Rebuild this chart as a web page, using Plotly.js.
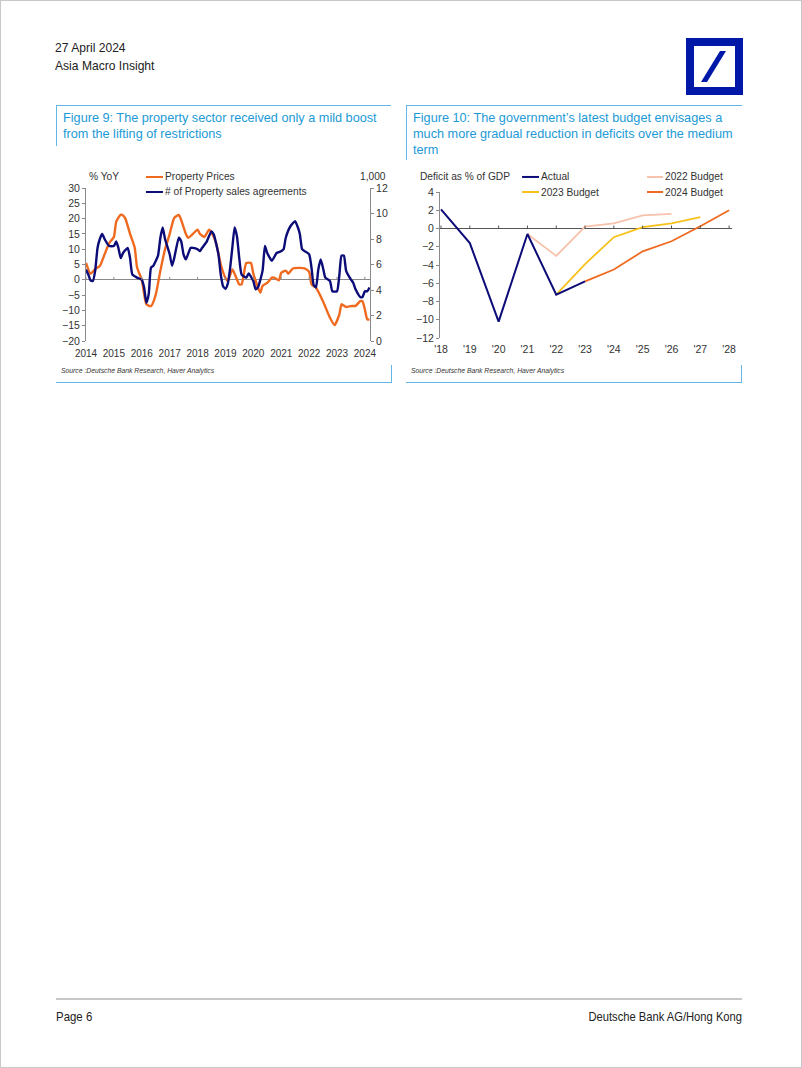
<!DOCTYPE html>
<html>
<head>
<meta charset="utf-8">
<script src="https://cdn.plot.ly/plotly-3.0.1.min.js"></script>
<style>
  html, body { margin:0; padding:0; background:#fff; }
  #page { position:relative; width:802px; height:1068px; box-sizing:border-box; border:1px solid #c8c8c8; overflow:hidden;
          font-family:"Liberation Sans",Arial,sans-serif; color:#222; }
  .abs { position:absolute; }
  .hdr { left:54px; top:38px; font-size:13px; line-height:17.5px; color:#222; transform:scaleX(0.93); transform-origin:0 0; white-space:nowrap; }
  .ftitle { font-size:13.5px; line-height:16px; color:#1b9ad6; transform:scaleX(0.94); transform-origin:0 0; white-space:nowrap; }
  .bl { background:#62b5e5; position:absolute; }
  .src { font-style:italic; font-size:6.8px; color:#333; white-space:nowrap; }
  .foot { font-size:13px; color:#222; top:1008px; line-height:16px; white-space:nowrap; }
</style>
</head>
<body>
<div id="page">
  <div class="abs hdr">27 April 2024<br>Asia Macro Insight</div>
  <svg class="abs" style="left:685px;top:37px" width="57" height="57" viewBox="0 0 57 57">
    <rect x="4" y="4" width="49" height="49" fill="none" stroke="#0018a8" stroke-width="8"/>
    <polygon points="15,44 21,44 40,13 34,13" fill="#0018a8"/>
  </svg>

  <!-- Figure 9 frame -->
  <div class="bl" style="left:55px;top:104px;width:335px;height:1px"></div>
  <div class="bl" style="left:55px;top:104px;width:1px;height:41px"></div>
  <div class="abs ftitle" style="left:62px;top:109px">Figure 9: The property sector received only a mild boost<br>from the lifting of restrictions</div>
  <div class="bl" style="left:55px;top:381px;width:336px;height:1px"></div>
  <div class="bl" style="left:390px;top:364px;width:1px;height:18px"></div>
  <div class="abs src" style="left:60px;top:366px">Source :Deutsche Bank Research, Haver Analytics</div>

  <!-- Figure 10 frame -->
  <div class="bl" style="left:405px;top:104px;width:336px;height:1px"></div>
  <div class="bl" style="left:405px;top:104px;width:1px;height:55px"></div>
  <div class="abs ftitle" style="left:412px;top:109px">Figure 10: The government’s latest budget envisages a<br>much more gradual reduction in deficits over the medium<br>term</div>
  <div class="bl" style="left:405px;top:381px;width:336px;height:1px"></div>
  <div class="bl" style="left:740px;top:364px;width:1px;height:18px"></div>
  <div class="abs src" style="left:410px;top:366px">Source :Deutsche Bank Research, Haver Analytics</div>

  <div id="chart1" class="abs" style="left:55px;top:160px;width:340px;height:215px"></div>
  <div id="chart2" class="abs" style="left:405px;top:160px;width:340px;height:215px"></div>

  <div class="abs" style="left:55px;top:997px;width:686px;height:2px;background:#c8c8c8"></div>
  <div class="abs foot" style="left:55px;transform:scaleX(0.88);transform-origin:0 0">Page 6</div>
  <div class="abs foot" style="left:741px;transform:translateX(-100%) scaleX(0.86);transform-origin:100% 0">Deutsche Bank AG/Hong Kong</div>
</div>
<script>
// ---------- Figure 9 data ----------
const priceName = "Property Prices";
const salesName = "# of Property sales agreements";
const priceDates = ["2014-01","2014-03","2014-05","2014-07","2014-09","2014-11","2015-01","2015-02","2015-04","2015-05","2015-06","2015-08","2015-10","2015-11","2016-01","2016-03","2016-05","2016-07","2016-09","2016-11","2017-01","2017-03","2017-05","2017-06","2017-08","2017-09","2017-11","2018-01","2018-02","2018-04","2018-06","2018-07","2018-09","2018-11","2019-01","2019-02","2019-04","2019-05","2019-07","2019-08","2019-10","2019-12","2020-01","2020-04","2020-05","2020-07","2020-09","2020-10","2020-12","2021-01","2021-03","2021-04","2021-06","2021-09","2021-11","2022-01","2022-02","2022-04","2022-07","2022-10","2022-12","2023-02","2023-03","2023-05","2023-07","2023-09","2023-11","2023-12","2024-01","2024-02","2024-03"];
const priceValues = [5.5,2.0,3.5,4.5,8.3,12,14,19,21.3,21,20,15,10.5,4,0,-8,-8.6,-5,3,10,15,20.2,21.2,19.5,15,13.7,15,16.4,15,14,16.4,15.5,12,5,0.6,-0.4,3.4,2,-1.5,-1.5,5.5,5.5,2,-4.2,-2,-1,0.7,0.7,-0.2,2.3,3,2,3.7,3.9,3.7,2.6,-1.5,-2.6,-7,-12.4,-14.8,-11.3,-8,-8.9,-8.6,-8.5,-7,-7,-9.7,-12.9,-13];
const salesDates = ["2014-01","2014-02","2014-03","2014-04","2014-05","2014-06","2014-07","2014-08","2014-09","2014-11","2015-01","2015-02","2015-03","2015-04","2015-05","2015-07","2015-08","2015-09","2015-11","2016-01","2016-02","2016-03","2016-04","2016-05","2016-06","2016-08","2016-09","2016-10","2016-11","2017-01","2017-02","2017-03","2017-05","2017-06","2017-07","2017-08","2017-10","2017-11","2018-01","2018-02","2018-03","2018-05","2018-07","2018-08","2018-10","2018-11","2018-12","2019-01","2019-02","2019-03","2019-04","2019-05","2019-06","2019-07","2019-08","2019-10","2019-11","2020-01","2020-02","2020-03","2020-05","2020-06","2020-07","2020-09","2020-11","2021-01","2021-02","2021-03","2021-05","2021-07","2021-08","2021-09","2021-10","2021-11","2022-01","2022-02","2022-03","2022-04","2022-05","2022-06","2022-07","2022-08","2022-10","2022-11","2023-01","2023-02","2023-03","2023-04","2023-05","2023-07","2023-08","2023-09","2023-11","2023-12","2024-01","2024-02","2024-03"];
const salesValues = [5.6,5.2,4.75,4.7,5.5,7.3,8.0,8.4,8.0,7.45,7.45,7.8,7.3,6.5,6.9,7.3,6.5,5.2,4.97,4.8,4.2,3.0,3.66,5.75,5.9,6.7,8.1,8.9,8.0,6.8,5.9,6.5,8.1,7.8,6.8,6.4,7.3,7.3,7.2,7.05,7.3,7.8,8.6,8.35,6.8,5.2,4.3,4.1,4.5,5.6,7.3,8.9,8.2,6.5,5.2,4.97,5.3,4.7,4.05,4.2,5.5,7.45,6.9,6.3,6.9,7.05,7.2,8.1,9.0,9.4,9.0,8.4,7.2,7.05,6.8,5.75,4.4,4.2,5.6,6.4,5.75,4.97,4.7,3.9,3.9,5.2,6.7,6.7,5.5,4.83,4.57,4.05,3.45,3.45,3.9,3.9,4.2];
const yearTicks1 = ["2014-01-01","2015-01-01","2016-01-01","2017-01-01","2018-01-01","2019-01-01","2020-01-01","2021-01-01","2022-01-01","2023-01-01","2024-01-01"];
const leftTitle1 = "% YoY";
const rightTitle1 = "1,000";

// ---------- Figure 10 data ----------
const years = [2018,2019,2020,2021,2022,2023,2024,2025,2026,2027,2028];
const yearLabels = ["'18","'19","'20","'21","'22","'23","'24","'25","'26","'27","'28"];
const actualYears = [2018,2019,2020,2021,2022,2023];
const actualValues = [2.1,-1.6,-10.2,-0.6,-7.25,-5.8];
const b2022Years = [2021,2022,2023,2024,2025,2026];
const b2022Values = [-0.6,-3.0,0.2,0.55,1.45,1.6];
const b2023Years = [2022,2023,2024,2025,2026,2027];
const b2023Values = [-7.25,-3.9,-0.95,0.15,0.55,1.25];
const b2024Years = [2023,2024,2025,2026,2027,2028];
const b2024Values = [-5.8,-4.5,-2.5,-1.4,0.25,2.0];
const seriesNames2 = ["Actual","2022 Budget","2023 Budget","2024 Budget"];
const yTitle2 = "Deficit as % of GDP";

const FONT = "Liberation Sans, Arial, sans-serif";
const TXT = "#333";
const AX = "#8a8a8a";
const ORANGE = "#ef6a1f", NAVY = "#0c0c78";
const SALMON = "#f6c2ab", YELLOW = "#f7c01a";

function legendItem(xp, yp, color, name, width) {
  return {
    shape: {type:"line", xref:"paper", yref:"paper", x0:xp, x1:xp+width, y0:yp, y1:yp, line:{color:color, width:2}},
    ann: {xref:"paper", yref:"paper", x:xp+width, y:yp, xanchor:"left", yanchor:"middle", text:name, showarrow:false, font:{family:FONT, size:10.2, color:TXT}}
  };
}

// ---------- Chart 1 ----------
(function(){
  const tickShapes = yearTicks1.map(d => ({type:"line", xref:"x", yref:"y", ysizemode:"pixel", yanchor:0, x0:d, x1:d, y0:0, y1:3, line:{color:AX, width:1}}));
  const l1 = legendItem(0.211, 1.072, ORANGE, priceName, 0.06);
  const l2 = legendItem(0.211, 0.974, NAVY, salesName, 0.06);
  const data = [
    {x:priceDates, y:priceValues, type:"scatter", mode:"lines", name:priceName, line:{color:ORANGE, width:2.4, shape:"spline", smoothing:0.5}, xaxis:"x", yaxis:"y", hoverinfo:"skip"},
    {x:salesDates, y:salesValues, type:"scatter", mode:"lines", name:salesName, line:{color:NAVY, width:2.4, shape:"spline", smoothing:0.5}, xaxis:"x", yaxis:"y2", hoverinfo:"skip"}
  ];
  const layout = {
    width:340, height:215, margin:{l:30, r:26, t:27, b:35},
    paper_bgcolor:"rgba(0,0,0,0)", plot_bgcolor:"rgba(0,0,0,0)",
    showlegend:false,
    font:{family:FONT, size:10, color:TXT},
    xaxis:{type:"date", range:["2014-01-01","2024-03-08"], tickvals:yearTicks1, tickformat:"%Y", showgrid:false, showline:false, zeroline:false, ticks:"", ticklabelstandoff:5, tickfont:{size:10, color:TXT}, fixedrange:true},
    yaxis:{range:[-20,30], dtick:5, showgrid:false, showline:true, linecolor:AX, linewidth:1, ticks:"outside", ticklen:3, tickcolor:AX, zeroline:true, zerolinecolor:AX, zerolinewidth:1, tickfont:{size:10.5, color:TXT}, fixedrange:true},
    yaxis2:{range:[0,12], dtick:2, overlaying:"y", side:"right", showgrid:false, showline:true, linecolor:AX, linewidth:1, ticks:"outside", ticklen:3, tickcolor:AX, zeroline:false, tickfont:{size:10.5, color:TXT}, fixedrange:true},
    shapes: tickShapes.concat([l1.shape, l2.shape]),
    annotations:[
      {xref:"paper", yref:"paper", x:0.005, y:1.072, xanchor:"left", yanchor:"middle", text:leftTitle1, showarrow:false, font:{family:FONT, size:10.2, color:TXT}},
      {xref:"paper", yref:"paper", x:1.063, y:1.072, xanchor:"right", yanchor:"middle", text:rightTitle1, showarrow:false, font:{family:FONT, size:10.2, color:TXT}},
      l1.ann, l2.ann
    ]
  };
  Plotly.newPlot("chart1", data, layout, {staticPlot:true, displayModeBar:false});
})();

// ---------- Chart 2 ----------
(function(){
  const tickShapes = years.map(y => ({type:"line", xref:"x", yref:"y", ysizemode:"pixel", yanchor:0, x0:y, x1:y, y0:0, y1:3, line:{color:"#555", width:1}}));
  const cols = [NAVY, SALMON, YELLOW, ORANGE];
  const la = legendItem(0.281, 1.103, cols[0], seriesNames2[0], 0.058);
  const lb = legendItem(0.709, 1.103, cols[1], seriesNames2[1], 0.055);
  const lc = legendItem(0.281, 1.0, cols[2], seriesNames2[2], 0.058);
  const ld = legendItem(0.709, 1.0, cols[3], seriesNames2[3], 0.055);
  const data = [
    {x:b2022Years, y:b2022Values, type:"scatter", mode:"lines", name:seriesNames2[1], line:{color:SALMON, width:1.8}, hoverinfo:"skip"},
    {x:b2023Years, y:b2023Values, type:"scatter", mode:"lines", name:seriesNames2[2], line:{color:YELLOW, width:1.8}, hoverinfo:"skip"},
    {x:b2024Years, y:b2024Values, type:"scatter", mode:"lines", name:seriesNames2[3], line:{color:ORANGE, width:1.8}, hoverinfo:"skip"},
    {x:actualYears, y:actualValues, type:"scatter", mode:"lines", name:seriesNames2[0], line:{color:NAVY, width:2}, hoverinfo:"skip"}
  ];
  const layout = {
    width:340, height:215, margin:{l:34, r:14, t:31, b:38},
    paper_bgcolor:"rgba(0,0,0,0)", plot_bgcolor:"rgba(0,0,0,0)",
    showlegend:false,
    font:{family:FONT, size:10, color:TXT},
    xaxis:{range:[2017.965, 2028.1], tickvals:years, ticktext:yearLabels, showgrid:false, showline:false, zeroline:false, ticks:"", ticklabelstandoff:3, tickfont:{size:10.5, color:TXT}, fixedrange:true},
    yaxis:{range:[-12,4], dtick:2, showgrid:false, showline:true, linecolor:AX, linewidth:1, ticks:"outside", ticklen:3, tickcolor:AX, zeroline:true, zerolinecolor:"#555", zerolinewidth:1, tickfont:{size:10.5, color:TXT}, fixedrange:true},
    shapes: tickShapes.concat([la.shape, lb.shape, lc.shape, ld.shape]),
    annotations:[
      {xref:"paper", yref:"paper", x:-0.075, y:1.103, xanchor:"left", yanchor:"middle", text:yTitle2, showarrow:false, font:{family:FONT, size:10.2, color:TXT}},
      la.ann, lb.ann, lc.ann, ld.ann
    ]
  };
  Plotly.newPlot("chart2", data, layout, {staticPlot:true, displayModeBar:false});
})();
</script>
</body>
</html>
